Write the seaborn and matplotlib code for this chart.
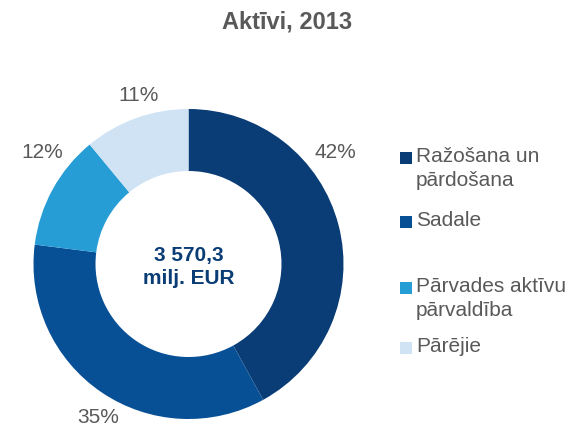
import matplotlib
matplotlib.use('Agg')
import matplotlib.pyplot as plt
from matplotlib.patches import Rectangle
import seaborn as sns

# ============================================================
# DATA
# ============================================================
categories = ['Ražošana un\npārdošana', 'Sadale', 'Pārvades aktīvu\npārvaldība', 'Pārējie']
shares = [42, 35, 12, 11]
pct_labels = [f'{v}%' for v in shares]
colors = ['#0a3c75', '#075096', '#279dd6', '#cfe3f4']
title = 'Aktīvi, 2013'
center_text = '3 570,3\nmilj. EUR'

# layout (label positions in data units, legend rows in figure px from top)
label_pos = [(0.95, 0.72), (-0.585, -0.99), (-0.945, 0.72), (-0.325, 1.09)]
legend_y_px = [158, 222, 288, 348]

GREY = '#595959'

sns.set_theme(style='white')
plt.rcParams['font.family'] = ['Liberation Sans', 'DejaVu Sans']

fig = plt.figure(figsize=(5.71, 4.29), dpi=100)
ax = fig.add_axes([33.5 / 571, 10 / 429, 310 / 571, 310 / 429])

wedges, texts = ax.pie(
    shares, colors=colors, startangle=90, counterclock=False,
    radius=1.0, labels=pct_labels, labeldistance=1.15,
    wedgeprops=dict(width=0.4, edgecolor='none'),
    textprops=dict(color=GREY, fontsize=15),
)
for t, (x, y) in zip(texts, label_pos):
    t.set_position((x, y))
    t.set_ha('center')
    t.set_va('center')

ax.set_xlim(-1, 1)
ax.set_ylim(-1, 1)
ax.set_aspect('auto')
ax.axis('off')

ax.text(0, -0.02, center_text, ha='center', va='center', fontsize=15,
        fontweight='bold', color='#0a3c75', linespacing=1.25)

fig.text(287 / 571, 1 - 22 / 429, title, ha='center', va='center',
         fontsize=17, fontweight='bold', color=GREY)

# legend
W, H = 571, 429
for cat, col, ypx in zip(categories, colors, legend_y_px):
    sq = 12
    fig.patches.append(Rectangle((400 / W, (H - ypx - sq / 2) / H), sq / W, sq / H,
                                 transform=fig.transFigure, facecolor=col,
                                 edgecolor='none'))
    fig.text(416 / W, (H - ypx + 11) / H, cat, ha='left', va='top',
             fontsize=15, color=GREY, linespacing=1.35)

fig.savefig('out.png', dpi=100, facecolor='white')
